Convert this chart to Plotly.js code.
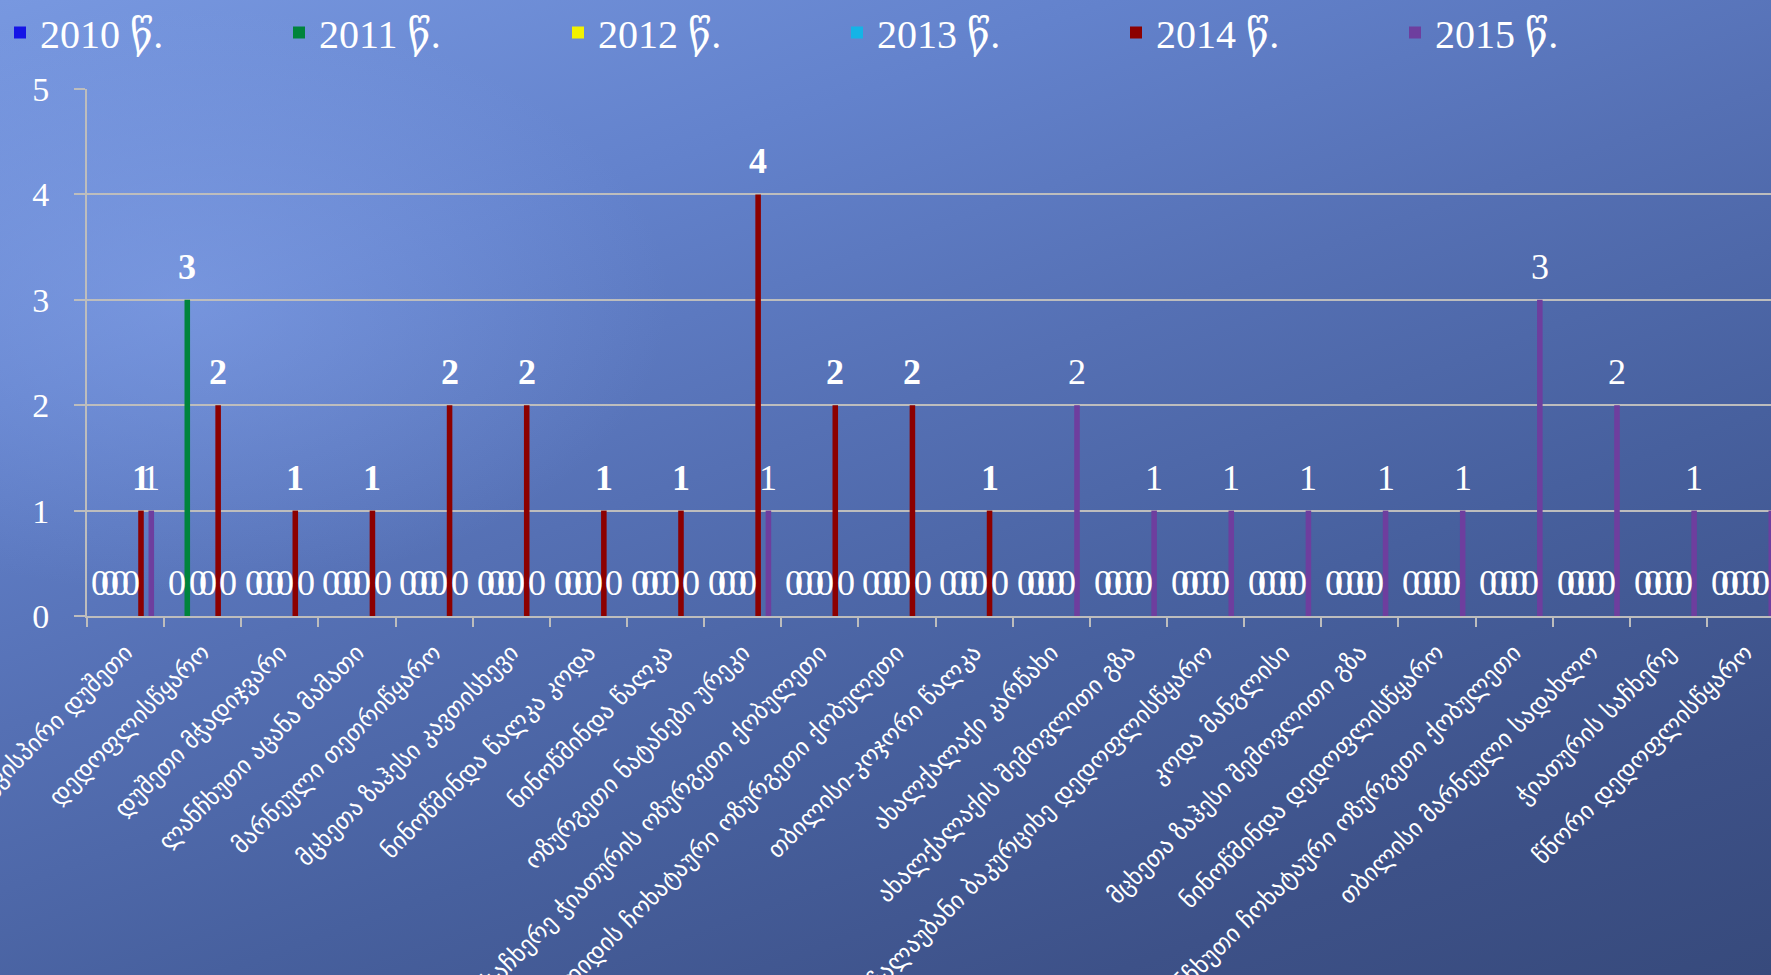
<!DOCTYPE html>
<html>
<head>
<meta charset="utf-8">
<script src="https://cdn.plot.ly/plotly-3.0.1.min.js"></script>
<style>
  html, body { margin: 0; padding: 0; width: 1771px; height: 975px; overflow: hidden; }
  body {
    background:
      radial-gradient(ellipse 700px 420px at 180px 300px, rgba(140,170,240,0.45), rgba(140,170,240,0) 70%),
      linear-gradient(160deg, #7898e0 0%, #6382cc 25%, #5570b4 45%, #47609e 65%, #3d5188 85%, #374a7c 100%);
  }
  #chart { width: 1771px; height: 975px; }
</style>
</head>
<body>
<div id="chart"></div>
<script>
const categories = [
  "არაგვისპირი დუშეთი",
  "დედოფლისწყარო",
  "დუშეთი მჭადიჯვარი",
  "ლანჩხუთი აცანა მამათი",
  "მარნეული თეთრიწყარო",
  "მცხეთა ზაჰესი კავთისხევი",
  "ნინოწმინდა წალკა კოდა",
  "ნინოწმინდა წალკა",
  "ოზურგეთი ნატანები ურეკი",
  "საჩხერე ჭიათურის ოზურგეთი ქობულეთი",
  "ჭყონდიდის ჩოხატაური ოზურგეთი ქობულეთი",
  "თბილისი-კოჯორი წალკა",
  "ახალქალაქი კარწახი",
  "ახალქალაქის შემოვლითი გზა",
  "ჩალაუბანი ბაკურციხე დედოფლისწყარო",
  "კოდა მანგლისი",
  "მცხეთა ზაჰესი შემოვლითი გზა",
  "ნინოწმინდა დედოფლისწყარო",
  "ლანჩხუთი ჩოხატაური ოზურგეთი ქობულეთი",
  "თბილისი მარნეული სადახლო",
  "ჭიათურის საჩხერე",
  "წნორი დედოფლისწყარო"
];
const seriesNames = ["2010 წ.", "2011 წ.", "2012 წ.", "2013 წ.", "2014 წ.", "2015 წ."];
const v2010 = [0,0,0,0,0,0,0,0,0,0,0,0,0,0,0,0,0,0,0,0,0,0];
const v2011 = [0,3,0,0,0,0,0,0,0,0,0,0,0,0,0,0,0,0,0,0,0,0];
const v2012 = [0,0,0,0,0,0,0,0,0,0,0,0,0,0,0,0,0,0,0,0,0,0];
const v2013 = [0,0,0,0,0,0,0,0,0,0,0,0,0,0,0,0,0,0,0,0,0,0];
const v2014 = [1,2,1,1,2,2,1,1,4,2,2,1,0,0,0,0,0,0,0,0,0,0];
const v2015 = [1,0,0,0,0,0,0,0,1,0,0,0,2,1,1,1,1,1,3,2,1,1];
const yTicks = [0,1,2,3,4,5];

const seriesValues = [v2010, v2011, v2012, v2013, v2014, v2015];
const colors = ["#1414e6", "#00843c", "#f2f200", "#14b4e6", "#8c0000", "#6e3e9e"];
const boldSeries = [false, true, false, false, true, false];

const BARGAP = 0.2;
const serif = "'Liberation Serif', 'DejaVu Serif', serif";
const geo = "'DejaVu Sans', 'Noto Sans', sans-serif";

const traces = seriesValues.map((vals, k) => ({
  type: 'bar',
  name: seriesNames[k],
  x: categories,
  y: vals,
  marker: { color: colors[k], line: { width: 0 } },
  hoverinfo: 'skip'
}));

const annotations = [];
const slot = (1 - BARGAP) / seriesValues.length;
seriesValues.forEach((vals, k) => {
  vals.forEach((v, i) => {
    annotations.push({
      x: i - (1 - BARGAP) / 2 + (k + 0.5) * slot,
      y: v,
      xref: 'x', yref: 'y',
      text: String(v),
      showarrow: false,
      yshift: 33,
      font: { family: serif, size: 36, color: '#ffffff', weight: (boldSeries[k] && v > 0) ? 'bold' : 'normal' }
    });
  });
});

const layout = {
  width: 1771, height: 975,
  paper_bgcolor: 'rgba(0,0,0,0)',
  plot_bgcolor: 'rgba(0,0,0,0)',
  margin: { l: 87, r: 0, t: 89, b: 359 },
  barmode: 'group',
  bargap: BARGAP,
  bargroupgap: 0.46,
  showlegend: true,
  legend: {
    orientation: 'h',
    xref: 'container', yref: 'container',
    x: 0, y: 1, xanchor: 'left', yanchor: 'top',
    entrywidth: 234, entrywidthmode: 'pixels',
    font: { family: serif, size: 40, color: '#ffffff' },
    bgcolor: 'rgba(0,0,0,0)',
    itemclick: false
  },
  xaxis: {
    type: 'category',
    range: [-0.5, 21.33],
    showgrid: false,
    showline: true, linecolor: '#bdbdbd', linewidth: 2,
    ticks: 'outside', tickson: 'boundaries', ticklen: 9, tickcolor: '#bdbdbd', tickwidth: 2,
    tickangle: -45,
    ticklabelstandoff: 11,
    tickfont: { family: geo, size: 24, color: '#ffffff' },
    fixedrange: true
  },
  yaxis: {
    range: [0, 5],
    tickvals: yTicks,
    ticktext: yTicks.map(String),
    showgrid: true, gridcolor: '#bdbdbd', gridwidth: 2,
    showline: true, linecolor: '#bdbdbd', linewidth: 2,
    ticks: 'outside', ticklen: 11, tickcolor: '#bdbdbd', tickwidth: 2,
    ticklabelstandoff: 18,
    tickfont: { family: serif, size: 34, color: '#ffffff' },
    zeroline: false,
    fixedrange: true
  },
  annotations: annotations
};

Plotly.newPlot('chart', traces, layout, { displayModeBar: false, staticPlot: true });
</script>
</body>
</html>
